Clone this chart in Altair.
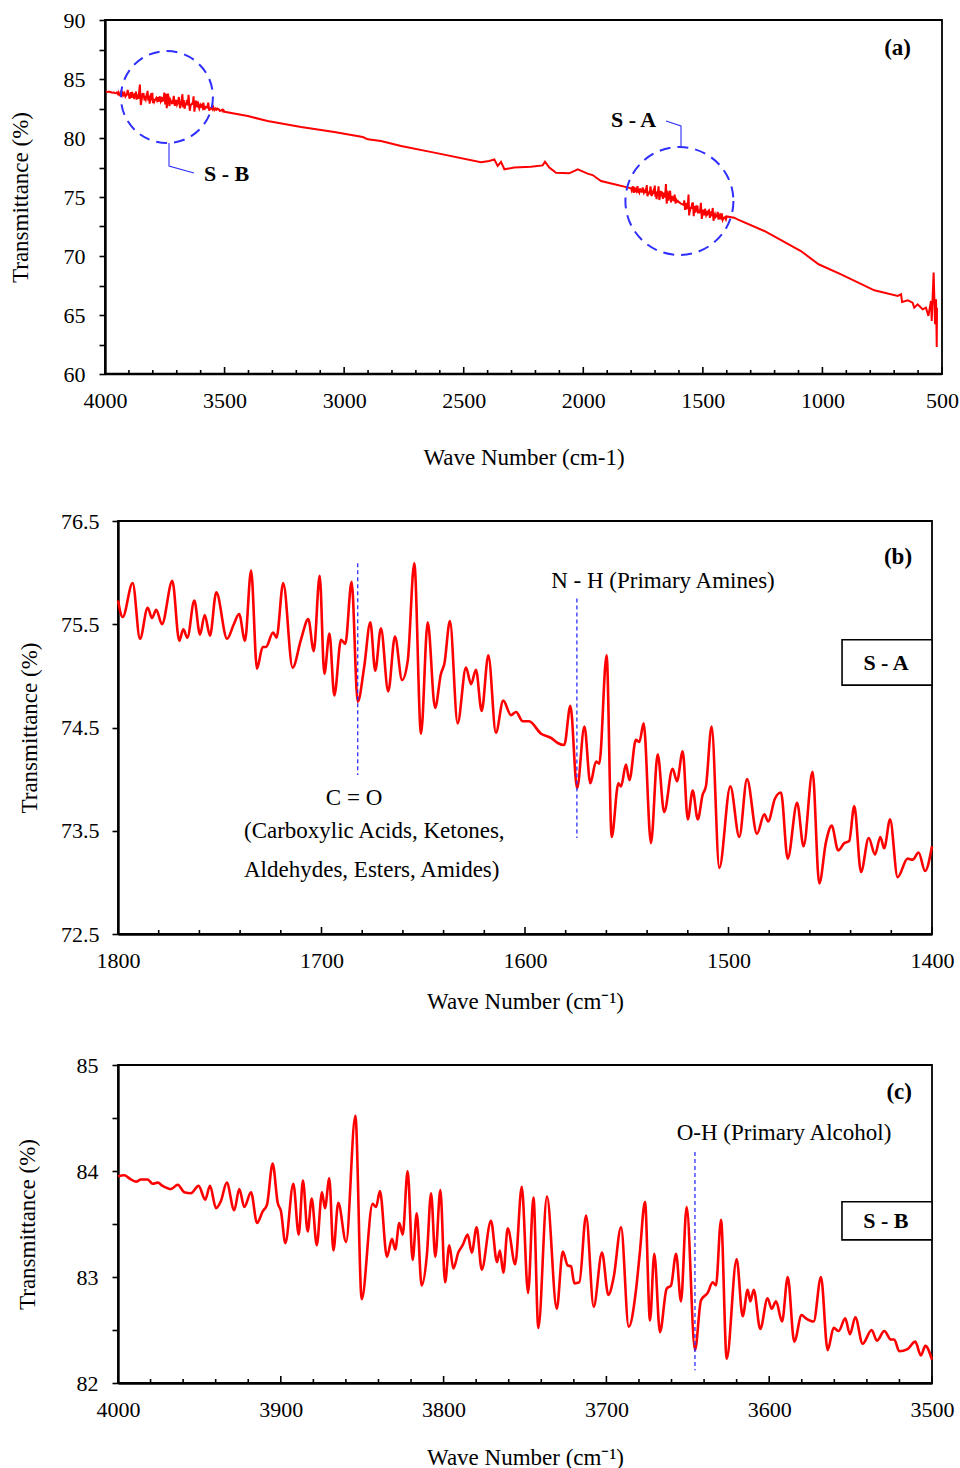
import altair as alt
import pandas as pd

FONT = "Liberation Serif"
RED = "#FF0000"
BLUE = "#2F2FFF"

# ---------------- panel (b): S - A region, 1800-1400 cm-1 ----------------
b_wave = [1800, 1797.7, 1792.8, 1789.2, 1785.4, 1783.3, 1781.2, 1778.4, 1773.3, 1769.9,
          1767.9, 1765.9, 1762.5, 1759.7, 1757.4, 1754.8, 1751.7, 1746.4, 1743.1, 1740.5,
          1737.6, 1734.6, 1731.7, 1728.9, 1727.3, 1723.8, 1722.1, 1718.8, 1714.2, 1710.1,
          1706.5, 1703.8, 1700.9, 1698.6, 1696.1, 1693.7, 1690.4, 1688.3, 1685.2, 1682.2,
          1679.0, 1676.0, 1673.6, 1670.8, 1667.2, 1663.9, 1660.4, 1657.6, 1654.4, 1651.1,
          1647.8, 1644.2, 1641.3, 1639.6, 1636.9, 1633.1, 1629.0, 1626.5, 1624.1, 1621.3,
          1618.0, 1614.3, 1610.7, 1606.9, 1604.4, 1601.1, 1598.0, 1592.1, 1587.2, 1583.9,
          1580.7, 1577.7, 1574.4, 1570.8, 1567.9, 1565.1, 1563.5, 1559.9, 1557.4, 1554.1,
          1552.8, 1550.4, 1548.7, 1545.5, 1543.8, 1541.7, 1538.1, 1534.8, 1531.6, 1527.5,
          1525.3, 1522.5, 1520.0, 1517.6, 1515.1, 1512.7, 1511.1, 1508.3, 1504.5, 1499.1,
          1494.7, 1490.9, 1486.0, 1482.4, 1480.5, 1477.2, 1474.2, 1470.9, 1466.3, 1463.1,
          1458.7, 1455.4, 1452.1, 1449.3, 1446.1, 1443.1, 1440.7, 1438.2, 1434.9, 1431.1,
          1428.0, 1425.4, 1423.5, 1420.6, 1416.9, 1412.0, 1409.5, 1406.6, 1403.4, 1400.0]
b_trans = [75.73, 75.57, 75.90, 75.36, 75.66, 75.56, 75.64, 75.50, 75.92, 75.34,
           75.45, 75.37, 75.73, 75.40, 75.59, 75.39, 75.81, 75.36, 75.50, 75.60,
           75.34, 76.02, 75.07, 75.28, 75.28, 75.42, 75.37, 75.90, 75.08, 75.35,
           75.55, 75.24, 75.97, 75.02, 75.41, 74.81, 75.35, 75.31, 75.91, 74.75,
           75.09, 75.52, 75.05, 75.46, 74.85, 75.38, 74.96, 75.15, 76.09, 74.44,
           75.52, 74.69, 75.02, 75.12, 75.53, 74.54, 75.08, 74.92, 75.06, 74.66,
           75.20, 74.45, 74.76, 74.62, 74.65, 74.56, 74.56, 74.44, 74.40, 74.35,
           74.33, 74.71, 73.91, 74.51, 73.96, 74.17, 74.15, 75.20, 73.44, 73.96,
           73.93, 74.14, 73.99, 74.38, 74.36, 74.54, 73.38, 74.24, 73.68, 74.10,
           73.98, 74.27, 73.61, 73.89, 73.61, 73.85, 73.93, 74.51, 73.14, 73.93,
           73.44, 74.00, 73.47, 73.66, 73.59, 73.81, 73.87, 73.23, 73.77, 73.35,
           74.07, 72.99, 73.39, 73.55, 73.31, 73.38, 73.40, 73.74, 73.10, 73.43,
           73.27, 73.44, 73.33, 73.61, 73.05, 73.23, 73.22, 73.29, 73.11, 73.35]

# ---------------- panel (c): S - B region, 4000-3500 cm-1 ----------------
c_wave = [4000, 3996.1, 3993.0, 3988.9, 3985.9, 3981.8, 3978.7, 3975.6, 3972.6, 3967.4,
          3963.3, 3959.3, 3955.2, 3950.5, 3946.4, 3943.5, 3939.8, 3936.7, 3933.2, 3928.6,
          3925.5, 3922.4, 3918.3, 3914.6, 3911.1, 3908.5, 3905.0, 3901.9, 3899.9, 3897.2,
          3892.3, 3889.0, 3886.4, 3883.5, 3881.0, 3877.9, 3874.7, 3872.9, 3870.2, 3867.7,
          3864.7, 3859.9, 3854.2, 3850.3, 3843.6, 3841.5, 3839.1, 3834.8, 3831.7, 3829.7,
          3827.2, 3825.1, 3822.1, 3819.0, 3816.5, 3813.5, 3810.2, 3807.7, 3805.1, 3802.0,
          3799.1, 3796.5, 3794.0, 3791.0, 3788.3, 3785.2, 3782.7, 3779.7, 3776.6, 3770.9,
          3767.2, 3765.4, 3763.3, 3760.6, 3756.0, 3752.0, 3748.1, 3744.8, 3741.8, 3736.5,
          3730.5, 3726.8, 3723.8, 3721.7, 3719.7, 3716.6, 3712.5, 3707.8, 3702.7, 3698.8,
          3695.5, 3691.0, 3686.3, 3681.8, 3679.4, 3676.3, 3673.2, 3670.6, 3667.1, 3663.0,
          3660.3, 3657.2, 3654.2, 3650.7, 3645.6, 3641.9, 3637.8, 3634.7, 3632.7, 3629.6,
          3626.1, 3620.0, 3616.3, 3613.2, 3611.6, 3609.5, 3605.5, 3601.0, 3598.5, 3595.8,
          3592.1, 3588.6, 3584.6, 3580.1, 3577.5, 3572.7, 3568.2, 3564.1, 3560.4, 3557.3,
          3553.3, 3550.4, 3547.1, 3542.6, 3537.1, 3533.8, 3529.3, 3525.2, 3523.2, 3520.1,
          3515.0, 3510.3, 3506.8, 3504.1, 3500.0]
c_trans = [83.95, 83.96, 83.93, 83.90, 83.92, 83.92, 83.88, 83.89, 83.86, 83.83,
           83.87, 83.80, 83.79, 83.86, 83.73, 83.86, 83.65, 83.72, 83.89, 83.63,
           83.83, 83.66, 83.80, 83.51, 83.62, 83.68, 84.07, 83.70, 83.62, 83.32,
           83.88, 83.40, 83.91, 83.43, 83.74, 83.30, 83.80, 83.65, 83.93, 83.25,
           83.70, 83.33, 84.52, 82.79, 83.69, 83.66, 83.81, 83.19, 83.36, 83.26,
           83.51, 83.40, 84.00, 83.16, 83.60, 82.92, 83.22, 83.79, 83.19, 83.82,
           82.95, 83.30, 83.08, 83.23, 83.30, 83.40, 83.23, 83.47, 83.07, 83.53,
           83.14, 83.25, 83.04, 83.46, 83.12, 83.85, 82.85, 83.75, 82.52, 83.76,
           82.70, 83.24, 83.11, 83.10, 82.94, 82.95, 83.58, 82.72, 83.23, 82.83,
           83.00, 83.47, 82.53, 82.88, 83.24, 83.71, 82.59, 83.22, 82.48, 82.89,
           82.92, 83.22, 82.77, 83.66, 82.31, 82.78, 82.85, 82.95, 82.92, 83.54,
           82.23, 83.17, 82.63, 82.88, 82.77, 82.88, 82.51, 82.80, 82.70, 82.77,
           82.58, 83.00, 82.39, 82.64, 82.61, 82.58, 83.00, 82.31, 82.52, 82.49,
           82.61, 82.46, 82.62, 82.37, 82.50, 82.40, 82.49, 82.41, 82.41, 82.30,
           82.32, 82.39, 82.26, 82.35, 82.22]

# ---------------- panel (a): the rest of the full spectrum ----------------
a_mid_wave = [3403, 3320, 3180, 3041, 2922, 2901, 2846, 2762, 2623, 2428, 2393, 2372,
              2358, 2344, 2330, 2289, 2219, 2170, 2160, 2142, 2114, 2059, 2023, 1982,
              1961, 1926, 1870, 1829]
a_mid_trans = [81.86, 81.44, 80.93, 80.51, 80.08, 79.89, 79.75, 79.32, 78.76, 77.95, 78.05, 78.19,
               77.63, 77.97, 77.35, 77.49, 77.57, 77.68, 77.99, 77.49, 77.06, 77.01, 77.35, 76.98,
               76.86, 76.36, 76.08, 75.88]
a_tail_wave = [1369, 1355, 1243, 1090, 1016, 922, 783, 685, 671, 667, 643, 623, 616, 602,
               581, 567, 557, 546, 543, 535, 529, 525, 522, 521]
a_tail_trans = [73.25, 73.11, 72.12, 70.42, 69.30, 68.45, 67.09, 66.61, 66.75, 66.10, 66.25, 66.04,
                65.62, 65.90, 65.48, 65.62, 64.92, 66.19, 64.49, 68.59, 64.21, 66.33, 62.29, 65.62]

# ---------------- axis ticks ----------------
a_x_major = [4000, 3500, 3000, 2500, 2000, 1500, 1000, 500]
a_x_minor = [3900, 3800, 3700, 3600, 3400, 3300, 3200, 3100, 2900, 2800, 2700, 2600,
             2400, 2300, 2200, 2100, 1900, 1800, 1700, 1600, 1400, 1300, 1200, 1100,
             900, 800, 700, 600]
a_y_ticks = [60, 62.5, 65, 67.5, 70, 72.5, 75, 77.5, 80, 82.5, 85, 87.5, 90]
b_x_major = [1800, 1700, 1600, 1500, 1400]
b_x_minor = [1780, 1760, 1740, 1720, 1680, 1660, 1640, 1620, 1580, 1560, 1540, 1520,
             1480, 1460, 1440, 1420]
b_y_ticks = [72.5, 73.5, 74.5, 75.5, 76.5]
c_x_major = [4000, 3900, 3800, 3700, 3600, 3500]
c_x_minor = [3980, 3960, 3940, 3920, 3880, 3860, 3840, 3820, 3780, 3760, 3740, 3720,
             3680, 3660, 3640, 3620, 3580, 3560, 3540, 3520]
c_y_ticks = [82, 82.5, 83, 83.5, 84, 84.5, 85]

# ---------------- annotations ----------------
a_circle_w = [3741, 1598]
a_circle_t = [83.47, 74.66]
a_circle_size = [8464, 11664]
a_leader_w = [3732.4, 3732.4, 3627.8, 1654.1, 1591.4, 1591.4]
a_leader_t = [79.58, 77.63, 77.03, 81.44, 81.02, 79.24]
a_leader_g = ["B", "B", "B", "A", "A", "A"]
a_leader_o = [0, 1, 2, 0, 1, 2]
a_label_text = ["S - B", "S - A"]
a_label_w = [3586, 1884]
a_label_t = [76.95, 81.53]

b_vline_w = [1682.2, 1574.5]
b_vline_t1 = [76.09, 75.75]
b_vline_t2 = [74.04, 73.43]
b_text = ["N - H (Primary Amines)", "C = O"]
b_text_w = [1532.2, 1684.0]
b_text_t = [75.92, 73.82]
b_text2 = ["(Carboxylic Acids, Ketones,", "Aldehydes, Esters, Amides)"]
b_text2_w = [1738.1, 1738.1]
b_text2_t = [73.50, 73.12]

c_vline_w = [3645.6]
c_vline_t1 = [84.18]
c_vline_t2 = [82.12]
c_text = ["O-H (Primary Alcohol)"]
c_text_w = [3590.9]
c_text_t = [84.36]


def xs(lo, hi, rng=None):
    if rng is None:
        return alt.Scale(domain=[lo, hi], reverse=True, nice=False, zero=False)
    return alt.Scale(domain=[lo, hi], reverse=True, nice=False, zero=False, range=rng)


def ys(lo, hi):
    return alt.Scale(domain=[lo, hi], nice=False, zero=False)


def tick_layers(major, minor, xsc, h):
    out = []
    for vals, ln in ((major, 7), (minor, 4)):
        out.append(
            alt.Chart(pd.DataFrame({"w": vals}))
            .mark_rule(color="black", strokeWidth=1.6)
            .encode(x=alt.X("w:Q", scale=xsc, axis=None), y=alt.value(h), y2=alt.value(h - ln))
        )
    return out


def text_layer(texts, ws, ts, xsc, ysc, **kw):
    df = pd.DataFrame({"w": ws, "t": ts, "label": texts})
    return alt.Chart(df).mark_text(font=FONT, color="black", **kw).encode(
        x=alt.X("w:Q", scale=xsc, axis=None),
        y=alt.Y("t:Q", scale=ysc, axis=None),
        text="label:N",
    )


def x_axis(values, title, label_pad, title_pad, domain=True):
    return alt.Axis(values=values, format="d", title=title, ticks=False, tickSize=0,
                    labelPadding=label_pad, labelFlush=False, labelOverlap=False,
                    titlePadding=title_pad, domain=domain, domainWidth=2.4, domainColor="black")


def y_axis(values, label_expr, label_pad, title_pad, offset=0):
    return alt.Axis(values=values, labelExpr=label_expr, title="Transmittance (%)",
                    tickSize=6, tickWidth=1.6, labelPadding=label_pad, labelOverlap=False,
                    titlePadding=title_pad, domain=True, domainWidth=2.4, domainColor="black",
                    offset=offset)


# ================= panel (a) =================
# the plot of panel (a) starts 13 px further left than those of (b) and (c)
AW, AH, A_SHIFT = 824, 354, 13
ax, ay = xs(500, 4000, [-A_SHIFT, AW]), ys(60, 90)
full_w = c_wave + a_mid_wave + b_wave + a_tail_wave
full_t = c_trans + a_mid_trans + b_trans + a_tail_trans
a_line = alt.Chart(pd.DataFrame({"w": full_w, "t": full_t})).mark_line(
    color=RED, strokeWidth=2, interpolate="linear"
).encode(
    x=alt.X("w:Q", scale=ax, axis=x_axis(a_x_major, "Wave Number (cm-1)", 16.5, 34.5, domain=False)),
    y=alt.Y("t:Q", scale=ay, axis=y_axis(a_y_ticks, "datum.value % 5 === 0 ? datum.value : ''",
                                          14, 30.5, offset=A_SHIFT)),
)
a_frame = alt.Chart(pd.DataFrame({"w": [4000], "w2": [500], "t": [90], "t2": [60]})).mark_rect(
    fillOpacity=0, stroke="black", strokeWidth=1.8
).encode(
    x=alt.X("w:Q", scale=ax, axis=None), x2="w2:Q",
    y=alt.Y("t:Q", scale=ay, axis=None), y2="t2:Q",
)
a_bottom = alt.Chart(pd.DataFrame({"w": [4000], "w2": [500], "t": [60]})).mark_rule(
    color="black", strokeWidth=2.4
).encode(
    x=alt.X("w:Q", scale=ax, axis=None), x2="w2:Q",
    y=alt.Y("t:Q", scale=ay, axis=None),
)
a_circles = alt.Chart(pd.DataFrame({"w": a_circle_w, "t": a_circle_t, "s": a_circle_size})).mark_point(
    shape="circle", filled=False, stroke=BLUE, strokeWidth=2, strokeDash=[11, 7], opacity=1
).encode(
    x=alt.X("w:Q", scale=ax, axis=None),
    y=alt.Y("t:Q", scale=ay, axis=None),
    size=alt.Size("s:Q", scale=None),
)
a_leaders = alt.Chart(pd.DataFrame({"w": a_leader_w, "t": a_leader_t, "g": a_leader_g, "o": a_leader_o})).mark_line(
    color=BLUE, strokeWidth=1.1
).encode(
    x=alt.X("w:Q", scale=ax, axis=None),
    y=alt.Y("t:Q", scale=ay, axis=None),
    detail="g:N",
    order="o:Q",
)
a_labels = text_layer(a_label_text, a_label_w, a_label_t, ax, ay, fontSize=22, fontWeight="bold",
                      align="left", baseline="middle")
a_tag = text_layer(["(a)"], [629.6], [87.63], ax, ay, fontSize=23, fontWeight="bold",
                   align="right", baseline="middle")
panel_a = alt.layer(a_line, a_frame, a_bottom, a_circles, a_leaders, a_labels, a_tag,
                    *tick_layers(a_x_major, a_x_minor, ax, AH)).resolve_axis(
    x="independent", y="independent").properties(
    width=AW, height=AH, view=alt.ViewBackground(stroke="transparent"))

# ================= panel (b) =================
BW, BH = 814, 413
bx, by = xs(1400, 1800), ys(72.5, 76.5)
b_line = alt.Chart(pd.DataFrame({"w": b_wave, "t": b_trans})).mark_line(
    color=RED, strokeWidth=2.6, interpolate="monotone"
).encode(
    x=alt.X("w:Q", scale=bx, axis=x_axis(b_x_major, "Wave Number (cm⁻¹)", 16.5, 18.5)),
    y=alt.Y("t:Q", scale=by, axis=y_axis(b_y_ticks, "format(datum.value, '.1f')", 13, 18.6)),
)
b_vlines = alt.Chart(pd.DataFrame({"w": b_vline_w, "t": b_vline_t1, "t2": b_vline_t2})).mark_rule(
    color=BLUE, strokeWidth=1.3, strokeDash=[4, 3]
).encode(
    x=alt.X("w:Q", scale=bx, axis=None),
    y=alt.Y("t:Q", scale=by, axis=None),
    y2="t2:Q",
)
b_box = alt.Chart(pd.DataFrame({"w": [1444.2], "w2": [1400], "t": [75.35], "t2": [74.91]})).mark_rect(
    fill="white", stroke="black", strokeWidth=1.6
).encode(
    x=alt.X("w:Q", scale=bx, axis=None), x2="w2:Q",
    y=alt.Y("t:Q", scale=by, axis=None), y2="t2:Q",
)
b_texts = text_layer(b_text, b_text_w, b_text_t, bx, by, fontSize=23, align="center", baseline="middle")
b_texts2 = text_layer(b_text2, b_text2_w, b_text2_t, bx, by, fontSize=23, align="left", baseline="middle")
b_boxtext = text_layer(["S - A"], [1422.6], [75.12], bx, by, fontSize=22, fontWeight="bold",
                       align="center", baseline="middle")
b_tag = text_layer(["(b)"], [1409.8], [76.15], bx, by, fontSize=23, fontWeight="bold",
                   align="right", baseline="middle")
panel_b = alt.layer(b_line, b_vlines, b_box, b_texts, b_texts2, b_boxtext, b_tag,
                    *tick_layers(b_x_major, b_x_minor, bx, BH)).resolve_axis(
    x="independent", y="independent").properties(width=BW, height=BH)

# ================= panel (c) =================
CW, CH = 814, 318
cx, cy = xs(3500, 4000), ys(82, 85)
c_line = alt.Chart(pd.DataFrame({"w": c_wave, "t": c_trans})).mark_line(
    color=RED, strokeWidth=2.6, interpolate="monotone"
).encode(
    x=alt.X("w:Q", scale=cx, axis=x_axis(c_x_major, "Wave Number (cm⁻¹)", 16.5, 25.5)),
    y=alt.Y("t:Q", scale=cy, axis=y_axis(c_y_ticks, "datum.value % 1 === 0 ? datum.value : ''", 14, 36.5)),
)
c_vlines = alt.Chart(pd.DataFrame({"w": c_vline_w, "t": c_vline_t1, "t2": c_vline_t2})).mark_rule(
    color=BLUE, strokeWidth=1.3, strokeDash=[4, 3]
).encode(
    x=alt.X("w:Q", scale=cx, axis=None),
    y=alt.Y("t:Q", scale=cy, axis=None),
    y2="t2:Q",
)
c_box = alt.Chart(pd.DataFrame({"w": [3555.3], "w2": [3500], "t": [83.71], "t2": [83.35]})).mark_rect(
    fill="white", stroke="black", strokeWidth=1.6
).encode(
    x=alt.X("w:Q", scale=cx, axis=None), x2="w2:Q",
    y=alt.Y("t:Q", scale=cy, axis=None), y2="t2:Q",
)
c_texts = text_layer(c_text, c_text_w, c_text_t, cx, cy, fontSize=23, align="center", baseline="middle")
c_boxtext = text_layer(["S - B"], [3528.3], [83.53], cx, cy, fontSize=22, fontWeight="bold",
                       align="center", baseline="middle")
c_tag = text_layer(["(c)"], [3512.3], [84.75], cx, cy, fontSize=23, fontWeight="bold",
                   align="right", baseline="middle")
panel_c = alt.layer(c_line, c_vlines, c_box, c_texts, c_boxtext, c_tag,
                    *tick_layers(c_x_major, c_x_minor, cx, CH)).resolve_axis(
    x="independent", y="independent").properties(width=CW, height=CH)

chart = alt.vconcat(panel_a, panel_b, panel_c, spacing=39).properties(
    padding={"left": 8, "top": 8, "right": 0, "bottom": 0}
).configure_view(
    stroke="black", strokeWidth=1.8
).configure_axis(
    labelFont=FONT, titleFont=FONT, labelFontSize=22, titleFontSize=23,
    labelColor="black", titleColor="black", titleFontWeight="normal",
    tickColor="black", grid=False,
)

chart.save("out.html", embed_options={"renderer": "svg", "actions": False})
